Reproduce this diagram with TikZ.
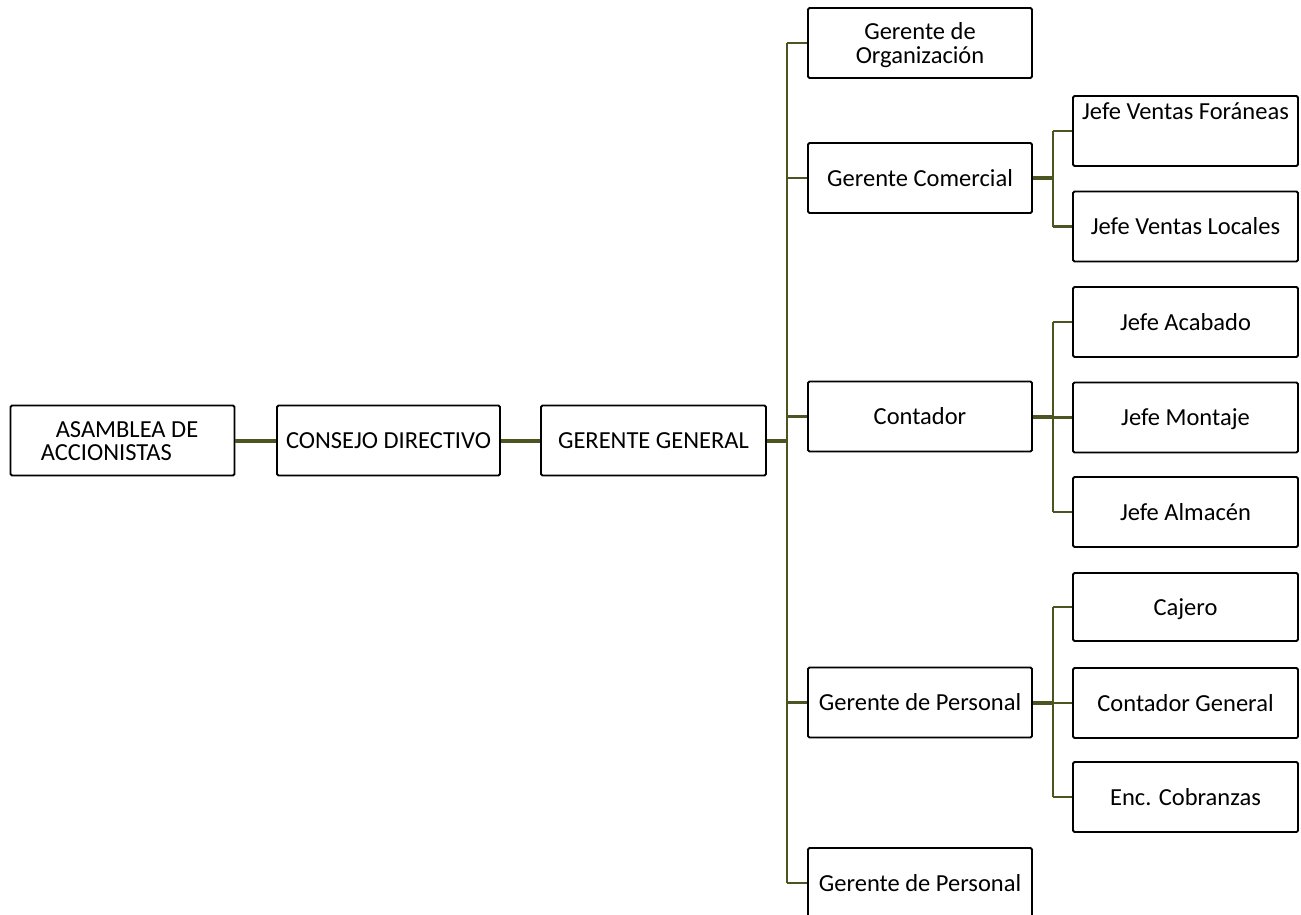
\documentclass[tikz,border=0pt]{standalone}
\usepackage{fontspec}
\setmainfont{Carlito}
\definecolor{olive}{HTML}{4A5522}
\tikzset{
  box/.style={draw=black, line width=1.8pt, rounded corners=1.5pt, fill=white,
    minimum width=224pt, minimum height=70pt, inner sep=0pt,
    text height=16pt, text depth=0pt,
    font=\fontsize{24.5}{23}\selectfont},
  link/.style={draw=olive, line width=2.6pt},
  thin link/.style={draw=olive, line width=2.2pt},
  heavy/.style={draw=olive, line width=4pt},
}
\begin{document}
\begin{tikzpicture}[x=1pt, y=-1pt]
\useasboundingbox (0,0) rectangle (1301,915);

% trunk positions
\coordinate (t) at (787,0);
\coordinate (s) at (1053,0);

% top-level chain
\node[box] (asm) at (122.5,440.5) {\raisebox{11.5pt}{\begin{tabular}[t]{@{}l@{}}\hspace*{15pt}ASAMBLEA DE\\ACCIONISTAS\end{tabular}}\hspace*{6pt}};
\node[box, minimum width=223pt] (cons) at (388.5,440.5) {CONSEJO DIRECTIVO};
\node[box, minimum width=225pt] (gg) at (653.5,440.5) {GERENTE GENERAL};

% managers
\node[box] (org) at (920,43) {\raisebox{11pt}{\begin{tabular}[t]{@{}c@{}}Gerente de\\Organización\end{tabular}}};
\node[box] (com) at (920,178) {Gerente Comercial};
\node[box] (cont) at (920,416.5) {Contador};
\node[box] (gp1) at (920,702.5) {Gerente de Personal};
\node[box] (gp2) at (920,883) {Gerente de Personal};

% heads under the commercial manager
\node[box, minimum width=225pt] (jvf) at (1185.5,131) {\raisebox{19pt}{Jefe Ventas Foráneas}};
\node[box, minimum width=225pt] (jvl) at (1185.5,226.5) {Jefe Ventas Locales};

% heads under the accountant
\node[box, minimum width=225pt] (jac) at (1185.5,322) {Jefe Acabado};
\node[box, minimum width=225pt] (jmo) at (1185.5,417.5) {Jefe Montaje};
\node[box, minimum width=225pt] (jal) at (1185.5,512) {Jefe Almacén};

% staff under the personnel manager
\node[box, minimum width=225pt, minimum height=68pt] (caj) at (1185.5,607) {Cajero};
\node[box, minimum width=225pt] (cg) at (1185.5,703) {Contador General};
\node[box, minimum width=225pt] (enc) at (1185.5,797) {Enc. Cobranzas};

% chain links
\draw[heavy] (asm.east) -- (cons.west);
\draw[heavy] (cons.east) -- (gg.west);
\draw[heavy] (gg.east) -- (gg.east -| t);

% main trunk and branches
\draw[link] (org.west -| t) -- (gp2.west -| t);
\foreach \n in {org,com,cont,gp1,gp2}
  \draw[link] (\n.west -| t) -- (\n.west);

% commercial group
\draw[heavy] (com.east) -- (com.east -| s);
\draw[thin link] (jvf.west -| s) -- (jvl.west -| s);
\foreach \n in {jvf,jvl}
  \draw[thin link] (\n.west -| s) -- (\n.west);

% accountant group
\draw[heavy] (cont.east) -- (cont.east -| s);
\draw[thin link] (jac.west -| s) -- (jal.west -| s);
\foreach \n in {jac,jmo,jal}
  \draw[thin link] (\n.west -| s) -- (\n.west);

% personnel group
\draw[heavy] (gp1.east) -- (gp1.east -| s);
\draw[thin link] (caj.west -| s) -- (enc.west -| s);
\foreach \n in {caj,cg,enc}
  \draw[thin link] (\n.west -| s) -- (\n.west);
\end{tikzpicture}
\end{document}
